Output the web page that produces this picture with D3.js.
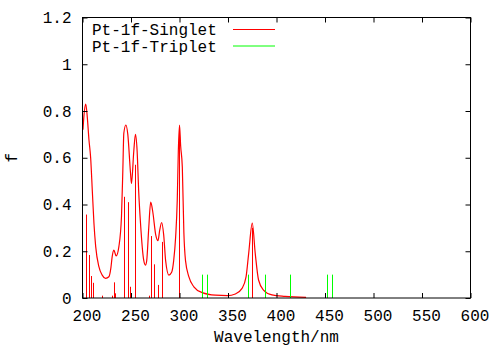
<!DOCTYPE html>
<html>
<head>
<meta charset="utf-8">
<script src="https://cdn.jsdelivr.net/npm/d3@7"></script>
<style>
  html, body { margin: 0; padding: 0; background: #fff; }
  svg { display: block; }
  text { font-family: "Liberation Mono", "Courier New", monospace; fill: #000; }
</style>
</head>
<body>
<div id="chart"></div>
<script>
// ---- data ----
const xTicks = [200, 250, 300, 350, 400, 450, 500, 550, 600];
const yTicks = [0, 0.2, 0.4, 0.6, 0.8, 1, 1.2];
const seriesNames = ["Pt-1f-Singlet", "Pt-1f-Triplet"];
const seriesColors = ["#ff0000", "#00ff00"];

// broadened singlet spectrum (wavelength / nm, f)
const singletCurveWl = [200.5, 201.5, 203.3, 204.6, 206.7, 208.4, 210.1, 211.8, 213.6, 216.9, 220.3, 223.8, 227.2, 229.3, 230.6, 232.3, 234.7, 237.5, 240.2, 241.6, 242.6, 244.7, 246.7, 249.5, 250.5, 252.9, 254.6, 256.3, 258.0, 259.8, 263.1, 264.9, 266.2, 268.3, 270.3, 272.4, 275.5, 277.8, 279.6, 281.6, 283.7, 285.7, 289.1, 291.9, 294.0, 296.0, 297.7, 298.8, 300.0, 301.2, 302.9, 304.5, 306.2, 309.7, 314.8, 323.4, 337.1, 349.4, 357.6, 364.5, 368.6, 371.3, 375.0, 378.1, 381.5, 386.6, 395.3, 408.9, 430.5];
const singletCurveF  = [0.72, 0.78, 0.83, 0.79, 0.675, 0.60, 0.46, 0.32, 0.22, 0.134, 0.098, 0.084, 0.091, 0.13, 0.177, 0.205, 0.18, 0.22, 0.35, 0.55, 0.705, 0.74, 0.70, 0.535, 0.49, 0.63, 0.70, 0.63, 0.45, 0.32, 0.162, 0.141, 0.16, 0.30, 0.41, 0.37, 0.27, 0.245, 0.29, 0.323, 0.27, 0.16, 0.098, 0.11, 0.16, 0.26, 0.42, 0.63, 0.74, 0.65, 0.56, 0.28, 0.16, 0.09, 0.048, 0.023, 0.012, 0.01, 0.017, 0.041, 0.09, 0.19, 0.32, 0.19, 0.077, 0.034, 0.013, 0.007, 0.003];

// singlet oscillator strengths (sticks)
const singletStickWl = [203.6, 207.0, 208.7, 211.0, 220.0, 230.0, 232.6, 233.6, 242.9, 246.4, 248.8, 254.6, 269.0, 270.6, 273.7, 278.2, 282.0, 299.6, 374.7];
const singletStickF  = [0.357, 0.184, 0.094, 0.065, 0.01, 0.01, 0.067, 0.02, 0.433, 0.41, 0.048, 0.57, 0.01, 0.265, 0.144, 0.056, 0.24, 0.72, 0.30];

// triplet states (sticks)
const tripletStickWl = [323.4, 328.5, 370.6, 388.1, 414.1, 451.7, 456.9];
const tripletStickF  = [0.1, 0.1, 0.1, 0.1, 0.1, 0.1, 0.1];

// ---- layout ----
const W = 490, H = 347;
const pLeft = 82.5, pRight = 470.5, pTop = 17.5, pBottom = 298;
const fontSize = 16;

const svg = d3.select("#chart").append("svg")
  .attr("width", W).attr("height", H);

const x = d3.scaleLinear().domain([200, 600]).range([pLeft, pRight]);
const y = d3.scaleLinear().domain([0, 1.2]).range([pBottom, pTop]);

svg.append("defs").append("clipPath").attr("id", "plotclip")
  .append("rect").attr("x", pLeft).attr("y", pTop)
  .attr("width", pRight - pLeft).attr("height", pBottom - pTop);

const plot = svg.append("g").attr("clip-path", "url(#plotclip)");

// singlet curve
const curveData = singletCurveWl.map((w, i) => [w, singletCurveF[i]]);
plot.append("path")
  .datum(curveData)
  .attr("fill", "none")
  .attr("stroke", seriesColors[0])
  .attr("stroke-width", 1.2)
  .attr("d", d3.line().x(d => x(d[0])).y(d => y(d[1])).curve(d3.curveMonotoneX));

// singlet sticks
plot.selectAll("line.sing")
  .data(singletStickWl.map((w, i) => [w, singletStickF[i]]))
  .join("line").attr("class", "sing")
  .attr("x1", d => Math.round(x(d[0])) + 0.5).attr("x2", d => Math.round(x(d[0])) + 0.5)
  .attr("y1", y(0)).attr("y2", d => y(d[1]))
  .attr("stroke", seriesColors[0]).attr("stroke-width", 1);

// triplet sticks
plot.selectAll("line.trip")
  .data(tripletStickWl.map((w, i) => [w, tripletStickF[i]]))
  .join("line").attr("class", "trip")
  .attr("x1", d => Math.round(x(d[0])) + 0.5).attr("x2", d => Math.round(x(d[0])) + 0.5)
  .attr("y1", y(0)).attr("y2", d => y(d[1]))
  .attr("stroke", seriesColors[1]).attr("stroke-width", 1);

// axes (inward ticks, gnuplot style)
const tick = 5;
const gB = svg.append("g").attr("transform", `translate(0,${pBottom})`)
  .call(d3.axisBottom(x).tickValues(xTicks).tickSizeInner(-tick).tickSizeOuter(0).tickPadding(12).tickFormat(d3.format("d")));
const gT = svg.append("g").attr("transform", `translate(0,${pTop})`)
  .call(d3.axisTop(x).tickValues(xTicks).tickSizeInner(-tick).tickSizeOuter(0).tickFormat(""));
const gL = svg.append("g").attr("transform", `translate(${pLeft},0)`)
  .call(d3.axisLeft(y).tickValues(yTicks).tickSizeInner(-tick).tickSizeOuter(0).tickPadding(11).tickFormat(d => String(d)));
const gR = svg.append("g").attr("transform", `translate(${pRight},0)`)
  .call(d3.axisRight(y).tickValues(yTicks).tickSizeInner(-tick).tickSizeOuter(0).tickFormat(""));

[gB, gT, gL, gR].forEach(g => {
  g.select(".domain").remove();
  g.selectAll(".tick line").attr("stroke", "#000");
  g.selectAll("text").attr("font-size", fontSize).attr("font-family", null).attr("fill", "#000");
});
gB.selectAll(".tick text").attr("dx", 4);

// border
svg.append("rect")
  .attr("x", pLeft).attr("y", pTop)
  .attr("width", pRight - pLeft).attr("height", pBottom - pTop)
  .attr("fill", "none").attr("stroke", "#000").attr("stroke-width", 1);

// axis titles
svg.append("text")
  .attr("x", (pLeft + pRight) / 2).attr("y", 342)
  .attr("text-anchor", "middle").attr("font-size", fontSize)
  .text("Wavelength/nm");
svg.append("text")
  .attr("transform", `translate(17,${(pTop + pBottom) / 2}) rotate(-90)`)
  .attr("text-anchor", "middle").attr("font-size", fontSize)
  .text("f");

// legend
const legend = svg.append("g");
seriesNames.forEach((name, i) => {
  const by = 35 + i * 16.5;
  legend.append("text").attr("x", 92).attr("y", by)
    .attr("font-size", fontSize).text(name);
  legend.append("line")
    .attr("x1", 233).attr("x2", 275)
    .attr("y1", by - 5.5).attr("y2", by - 5.5)
    .attr("stroke", seriesColors[i]).attr("stroke-width", 1);
});
</script>
</body>
</html>
